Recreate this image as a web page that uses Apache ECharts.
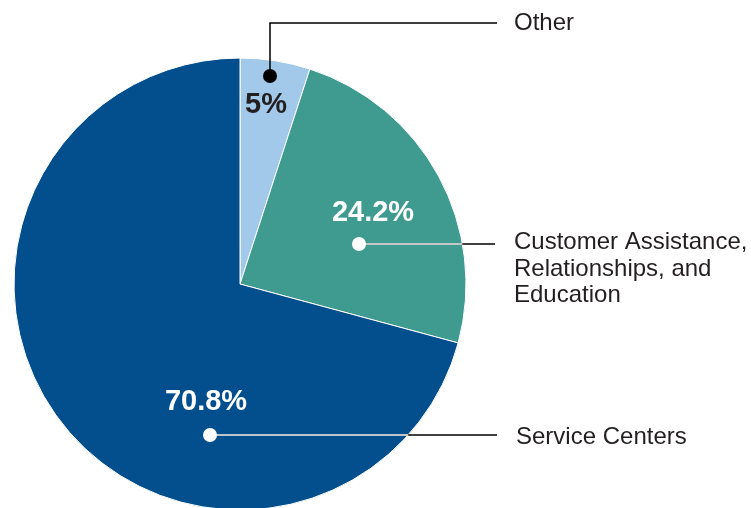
<!DOCTYPE html>
<html><head><meta charset="utf-8">
<script src="https://cdn.jsdelivr.net/npm/echarts@6/dist/echarts.min.js"></script>
<style>html,body{margin:0;padding:0;background:#fff}#c{width:751px;height:508px}</style>
</head><body><div id="c"></div>
<script>
const categories = ['Other', 'Customer Assistance,\nRelationships, and\nEducation', 'Service Centers'];
const values = [5, 24.2, 70.8];
const colors = ['#a2c9ea', '#3f9a90', '#034f8e'];
const pctColors = ['#231f20', '#ffffff', '#ffffff'];

// layout (pixels)
const CX = 240, CY = 284, R = 226;
const pctPos = [[266, 105], [373, 213], [206, 402]];
const dotPos = [[270, 76], [359, 244], [210, 435]];
const dotColor = ['#000000', '#ffffff', '#ffffff'];
const elbow = [[270, 23], null, null];
const lineEnd = [[497, 23], [495, 244], [497, 435]];
const namePos = [[514, 23], [514, 243], [516, 437]];

const chart = echarts.init(document.getElementById('c'), null, {renderer: 'canvas'});

const graphics = [];
categories.forEach((name, i) => {
  const [dx, dy] = dotPos[i];
  const pts = elbow[i] ? [[dx, dy], elbow[i], lineEnd[i]] : [[dx, dy], lineEnd[i]];
  graphics.push({type: 'polyline', shape: {points: pts}, style: {stroke: '#000', lineWidth: 1.5, fill: null}, z: 10});
  if (dotColor[i] === '#ffffff') {
    const edgeX = CX + Math.sqrt(R * R - (dy - CY) * (dy - CY));
    graphics.push({type: 'line', shape: {x1: dx, y1: dy, x2: edgeX, y2: dy}, style: {stroke: '#fff', lineWidth: 1.5}, z: 11});
  }
  graphics.push({type: 'circle', shape: {cx: dx, cy: dy, r: 7}, style: {fill: dotColor[i]}, z: 12});
  const multi = name.indexOf('\n') >= 0;
  graphics.push({type: 'text', x: namePos[i][0], y: multi ? namePos[i][1] - 13.5 : namePos[i][1], z: 12,
    style: {text: name, fill: '#231f20', font: '24px "Liberation Sans", Arial, sans-serif',
      verticalAlign: multi ? 'top' : 'middle', lineHeight: 26.5, align: 'left'}});
});

chart.setOption({
  animation: false,
  graphic: graphics,
  series: [{
    type: 'pie',
    center: [CX, CY],
    radius: R,
    startAngle: 90,
    clockwise: true,
    silent: true,
    itemStyle: {borderColor: '#ffffff', borderWidth: 1},
    label: {
      show: true, position: 'inside',
      fontFamily: '"Liberation Sans", Arial, sans-serif', fontWeight: 'bold', fontSize: 29,
      formatter: p => values[p.dataIndex] + '%'
    },
    labelLayout: p => ({x: pctPos[p.dataIndex][0], y: pctPos[p.dataIndex][1], align: 'center', verticalAlign: 'middle'}),
    labelLine: {show: false},
    data: categories.map((n, i) => ({name: n, value: values[i], itemStyle: {color: colors[i]},
      label: {color: pctColors[i]}}))
  }]
});
</script></body></html>
